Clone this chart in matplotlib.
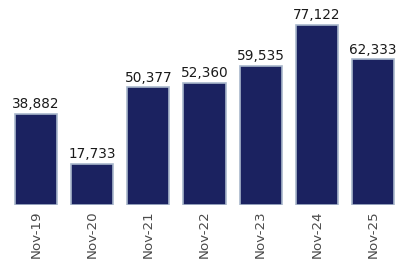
import matplotlib.pyplot as plt

months = ["Nov-19", "Nov-20", "Nov-21", "Nov-22", "Nov-23", "Nov-24", "Nov-25"]
values = [38882, 17733, 50377, 52360, 59535, 77122, 62333]

fig = plt.figure(figsize=(4.07, 2.66), dpi=100)
ax = fig.add_axes([8 / 407, 1 - 205 / 266, 393 / 407, 205 / 266])

x = range(len(months))
bars = ax.bar(x, values, width=0.75, color="#1b2260", edgecolor="#a9b8cc", linewidth=1.2)

for b, v in zip(bars, values):
    ax.text(b.get_x() + b.get_width() / 2, v + 1200, f"{v:,}",
            ha="center", va="bottom", fontsize=9.8, color="#1a1a1a")

ax.set_xlim(-0.5, len(months) - 0.5)
ax.set_ylim(0, 87800)
ax.set_xticks(list(x))
ax.set_xticklabels(months, rotation=90, fontsize=9.6, color="#4a4a4a")
ax.tick_params(axis="x", length=0, pad=4)
ax.set_yticks([])
for s in ax.spines.values():
    s.set_visible(False)

fig.savefig("out.png", dpi=100)
